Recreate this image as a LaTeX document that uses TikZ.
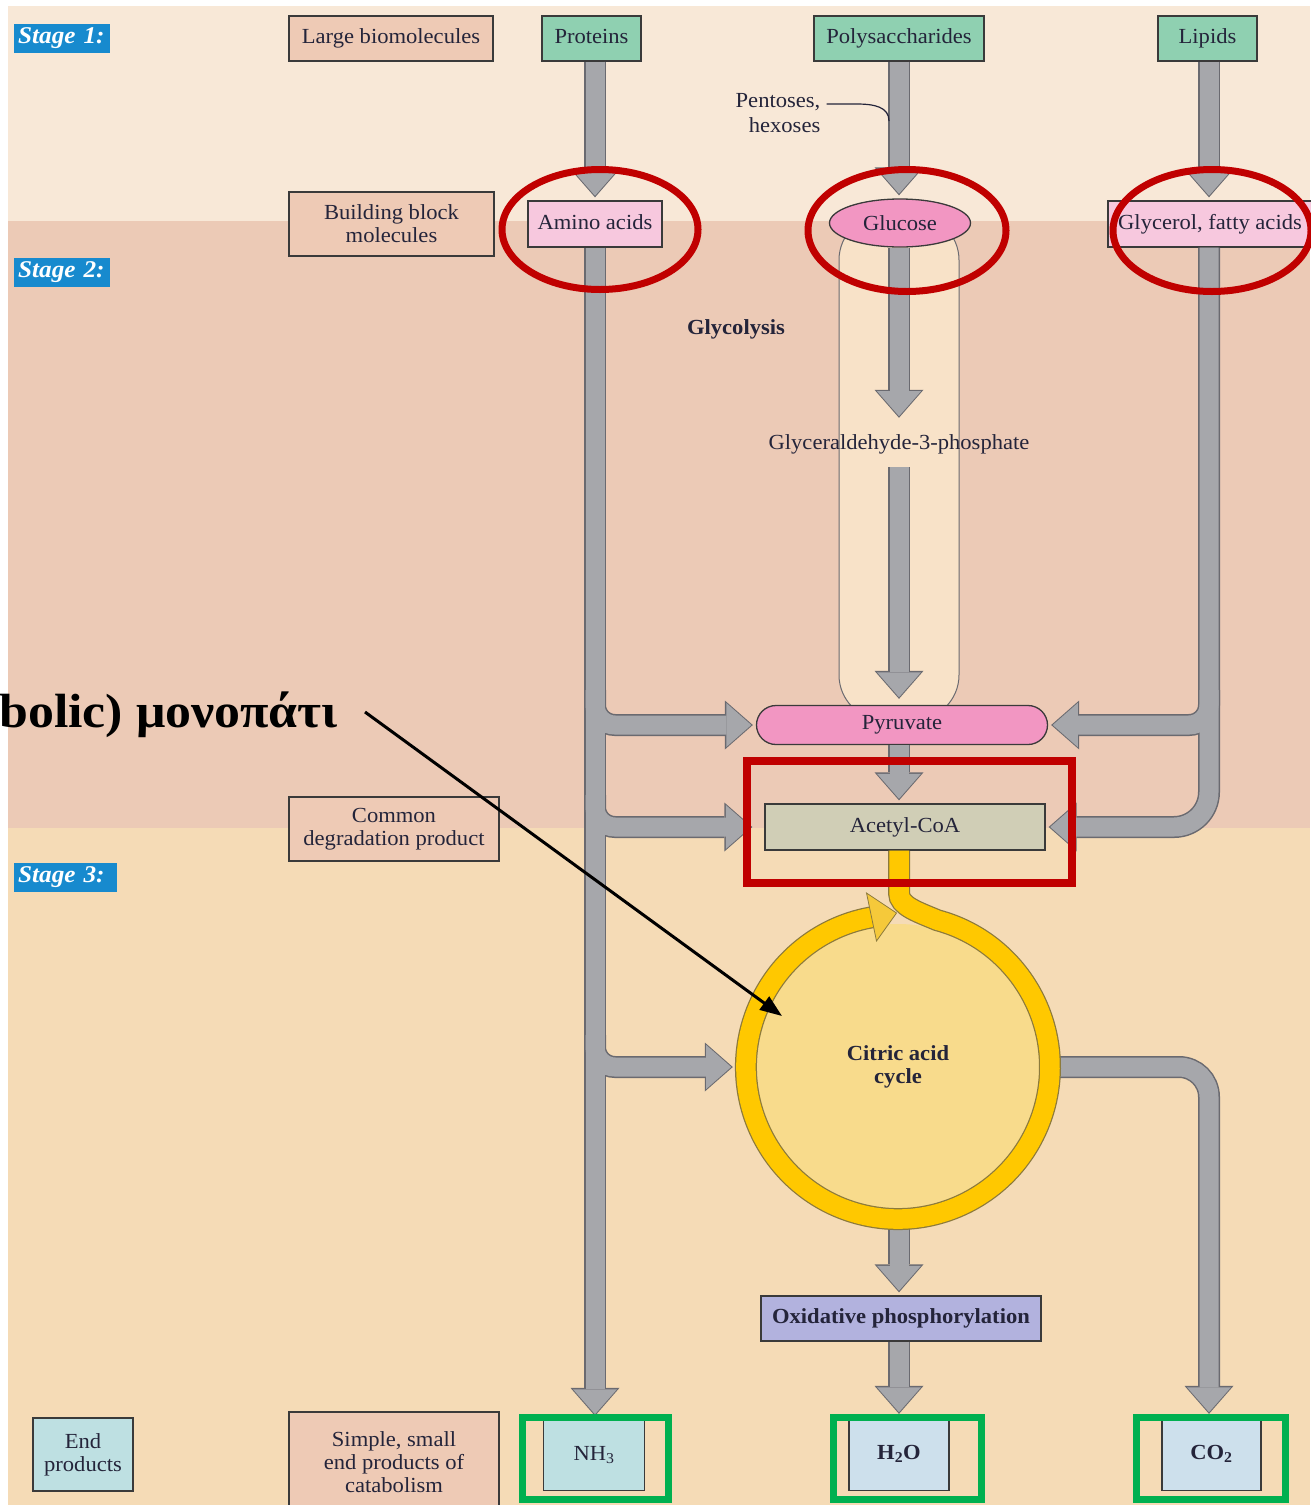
\documentclass[tikz,border=0pt]{standalone}
\usepackage{fontspec}
\setmainfont{Liberation Serif}[FakeStretch=1.05]
\newfontfamily\notefont{Liberation Serif}[FakeStretch=1.08]
\usetikzlibrary{arrows.meta,calc,shapes.geometric}
\definecolor{bgone}{HTML}{F8E8D7}
\definecolor{bgtwo}{HTML}{ECCAB6}
\definecolor{bgthree}{HTML}{F5DBB6}
\definecolor{peach}{HTML}{EECAB5}
\definecolor{mint}{HTML}{8FD0B1}
\definecolor{pinklight}{HTML}{F7C8DE}
\definecolor{pinkdark}{HTML}{F296C2}
\definecolor{acetylc}{HTML}{D0CEB6}
\definecolor{oxic}{HTML}{B2B2DE}
\definecolor{endc}{HTML}{BEE0E2}
\definecolor{prodc}{HTML}{CDE0EC}
\definecolor{stageblue}{HTML}{178ACE}
\definecolor{arrgray}{HTML}{A6A7AB}
\definecolor{arredge}{HTML}{6A6A70}
\definecolor{ringyellow}{HTML}{FFC800}
\definecolor{ringedgec}{HTML}{8C7A3C}
\definecolor{ringinner}{HTML}{F8DB8C}
\definecolor{ringheadc}{HTML}{F5C93A}
\definecolor{capsulec}{HTML}{F8E2C8}
\definecolor{boxline}{HTML}{3A3A3A}
\definecolor{txt}{HTML}{24243A}
\definecolor{annred}{HTML}{C00000}
\definecolor{anngreen}{HTML}{00B050}

\newcommand\grayflows[1]{%
 \draw[#1] (colA |- prot.south) -- (colA |- amino.north);
 \draw[#1] (colB |- poly.south) -- (colB |- gluc.north);
 \draw[#1] (colC |- lip.south) -- (colC |- glyc.north);
 \draw[#1] (colB |- gluc.south) -- (colB |- g3p.north);
 \draw[#1] (colB |- g3p.south) -- ($(colB |- pyr.north)+(0,-3)$);
 \draw[#1] (colB |- pyr.south) -- (colB |- acetyl.north);
 \draw[#1,rounded corners=20pt] (brA1) |- (pyr.west);
 \draw[#1,rounded corners=20pt] (brA2) |- ($(acetyl.west)+(-9,0)$);
 \draw[#1,rounded corners=20pt] (brA3) |- (cycle.west);
 \draw[#1] (colA |- amino.south) -- (colA |- nh3.north);
 \draw[#1,rounded corners=20pt] (brC1) |- (pyr.east);
 \draw[#1,rounded corners=35pt] (colC |- glyc.south) |- (acetyl.east);
 \draw[#1] (colB |- cycle.south) -- (colB |- oxi.north);
 \draw[#1] (colB |- oxi.south) -- (colB |- h2o.north);
 \draw[#1,rounded corners=30pt] (cycle.east) -| (colC |- co2.north);
}

\begin{document}
\begin{tikzpicture}[x=1pt,y=-1pt,
 every node/.style={text=txt, font=\fontsize{21.5}{23}\selectfont},
 box/.style={draw=boxline, line width=1.3pt, inner sep=0pt, align=center},
 lblbox/.style={box, fill=peach},
 srcbox/.style={box, fill=mint, minimum height=45pt, text height=15pt, text depth=5pt},
 pinkbox/.style={box, fill=pinklight, minimum height=46pt, text height=15pt, text depth=5pt},
 stagebox/.style={fill=stageblue, text=white, font=\fontsize{24}{26}\selectfont\bfseries\itshape, inner xsep=4pt, inner ysep=0pt, minimum height=29pt, align=left, anchor=west},
 boldtext/.style={font=\fontsize{21.5}{23}\selectfont\bfseries},
 fatedge/.style={draw=arredge, line width=22pt, shorten >=3pt, -{Triangle[width=49pt,length=28pt,line width=0pt]}},
 fatfill/.style={draw=arrgray, line width=19pt, shorten >=4.6pt, -{Triangle[width=44pt,length=25pt,line width=0pt]}},
 ringedge/.style={draw=ringedgec, line width=22pt},
 ringfill/.style={draw=ringyellow, line width=19.5pt},
 thinline/.style={draw=txt, line width=1.2pt},
 annoval/.style={draw=annred, line width=7pt},
 anngbox/.style={draw=anngreen, line width=7pt}]
\useasboundingbox (0,0) rectangle (1310,1505);
% backgrounds
\fill[white] (0,0) rectangle (1310,1505);
\fill[bgone] (8,6) rectangle (1310,221);
\fill[bgtwo] (8,221) rectangle (1310,828);
\fill[bgthree] (8,828) rectangle (1310,1505);
% stage labels
\node[stagebox, text width=88pt] (s1) at (14,38) {Stage 1:};
\node[stagebox, text width=88pt] (s2) at (14,272) {Stage 2:};
\node[stagebox, text width=95pt] (s3) at (14,877) {Stage 3:};
% column coordinates
\coordinate (colA) at (595,0);
\coordinate (colB) at (899,0);
\coordinate (colC) at (1209,0);
\coordinate (brA1) at (595,690);
\coordinate (brA2) at (595,795);
\coordinate (brA3) at (595,1035);
\coordinate (brC1) at (1209,690);
% glycolysis capsule
\draw[fill=capsulec, draw=arredge, line width=1pt, rounded corners=45pt] (839,215) rectangle (959,720);
% citric acid cycle inner disc
\coordinate (cyc0) at (898,1067);
\fill[ringinner] (cyc0) circle (143);
\node[circle, minimum size=324pt, inner sep=0pt, align=center, boldtext] (cycle) at (cyc0) {Citric acid\\cycle};
% left labels
\node[lblbox, minimum width=204pt, minimum height=45pt] (large) at (391,38.5) {Large biomolecules};
\node[lblbox, minimum width=205pt, minimum height=64pt] (build) at (391.5,224) {Building block\\molecules};
\node[lblbox, minimum width=210pt, minimum height=64pt] (common) at (394,829) {Common\\degradation product};
\node[lblbox, minimum width=210pt, minimum height=100pt] (simple) at (394,1462) {Simple, small\\end products of\\catabolism};
\node[box, fill=endc, minimum width=100pt, minimum height=73pt] (endp) at (83,1454.5) {End\\products};
% sources
\node[srcbox, minimum width=99pt] (prot) at (591.5,38.5) {Proteins};
\node[srcbox, minimum width=170pt] (poly) at (899,38.5) {Polysaccharides};
\node[srcbox, minimum width=99pt] (lip) at (1207.5,38.5) {Lipids};
% building blocks
\node[pinkbox, minimum width=134pt] (amino) at (595,224) {Amino acids};
\node[ellipse, draw=boxline, line width=1.3pt, fill=pinkdark, inner sep=0pt, minimum width=141pt, minimum height=48pt] (gluc) at (900,223) {Glucose};
\node[pinkbox, minimum width=204pt] (glyc) at (1210,224) {Glycerol, fatty acids};
% glycolysis
\node[boldtext, inner sep=0pt] (glyco) at (736,329) {Glycolysis};
\node[inner sep=0pt, minimum height=46pt] (g3p) at (899,444) {Glyceraldehyde-3-phosphate};
\node[box, fill=pinkdark, rounded corners=19.5pt, minimum width=291pt, minimum height=39pt] (pyr) at (902,725) {Pyruvate};
\node[box, fill=acetylc, minimum width=280pt, minimum height=46pt] (acetyl) at (905,827) {Acetyl-CoA};
\node[box, fill=oxic, minimum width=280pt, minimum height=45pt, boldtext] (oxi) at (901,1318.5) {Oxidative phosphorylation};
% end products
\node[box, fill=endc, minimum width=101pt, minimum height=71pt] (nh3) at (594,1455) {NH\textsubscript{3}};
\node[box, fill=prodc, minimum width=100pt, minimum height=73pt, boldtext] (h2o) at (899,1454) {H\textsubscript{2}O};
\node[box, fill=prodc, minimum width=99pt, minimum height=73pt, boldtext] (co2) at (1211.5,1454) {CO\textsubscript{2}};
% pentoses label
\node[align=right, inner sep=0pt, font=\fontsize{21.5}{25}\selectfont] (pent) at (778,113) {Pentoses,\\hexoses};
% gray flows: outline pass, then fill pass
\grayflows{fatedge}
\grayflows{fatfill}
\coordinate (pentend) at (889,121);
\draw[thinline] ($(pent.east)+(6,-9)$) -- ++(30,0) .. controls +(18,0) and +(0,-14) .. (pentend);
% citric acid cycle ring
\draw[ringedge] (colB |- acetyl.south) -- (899,893) .. controls (899,906) and (918,912) .. (937.3,920.2) arc[start angle=-75, end angle=260, radius=152];
\draw[ringfill] (colB |- acetyl.south) -- (899,893) .. controls (899,906) and (918,912) .. (937.3,920.2) arc[start angle=-75, end angle=260, radius=152];
\filldraw[fill=ringheadc, draw=ringedgec, line width=0.8pt] (866.5,893) -- (896.5,913) -- (876.5,941) -- cycle;
% annotations
\draw[annoval] (600,229.5) ellipse [x radius=98, y radius=60];
\draw[annoval] (907,230.5) ellipse [x radius=99, y radius=61];
\draw[annoval] (1212,230.5) ellipse [x radius=99, y radius=61];
\draw[draw=annred, line width=8pt] (747,761) rectangle (1072,883);
\draw[anngbox] (522,1417) rectangle (668,1499);
\draw[anngbox] (833,1417) rectangle (981,1499);
\draw[anngbox] (1136,1417) rectangle (1285,1499);
\node[anchor=base east, inner sep=0pt, text=black, font=\notefont\fontsize{48}{50}\selectfont\bfseries] (note) at (338,727) {bolic) μονοπάτι};
\coordinate (notetip) at (782,1016);
\draw[black, line width=3pt, -{Triangle[length=22pt,width=16pt]}] (365,712) -- (notetip);
\end{tikzpicture}
\end{document}
